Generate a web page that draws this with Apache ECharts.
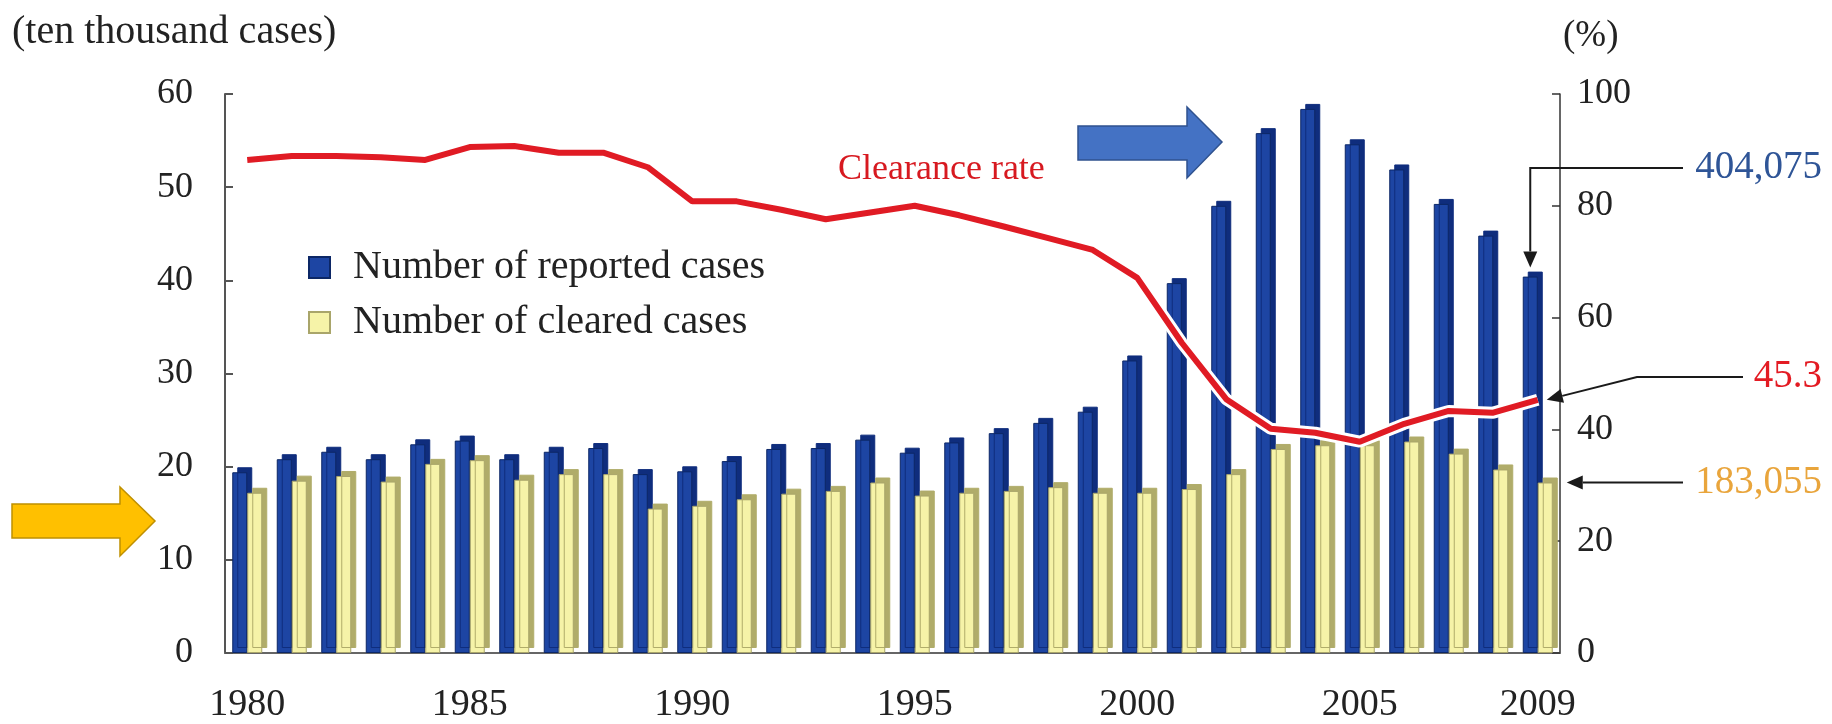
<!DOCTYPE html>
<html>
<head>
<meta charset="utf-8">
<script src="https://cdn.jsdelivr.net/npm/echarts@6.0.0/dist/echarts.min.js"></script>
<style>
  html, body { margin: 0; padding: 0; background: #fff; }
  #main { width: 1832px; height: 724px; }
</style>
</head>
<body>
<div id="main"></div>
<script>
// data
const years = ['1980', '1981', '1982', '1983', '1984', '1985', '1986', '1987', '1988', '1989',
  '1990', '1991', '1992', '1993', '1994', '1995', '1996', '1997', '1998', '1999',
  '2000', '2001', '2002', '2003', '2004', '2005', '2006', '2007', '2008', '2009'];
// ten thousand cases
const reported = [19.4, 20.8, 21.6, 20.8, 22.4, 22.8, 20.8, 21.6, 22.0, 19.2,
  19.5, 20.6, 21.9, 22.0, 22.9, 21.5, 22.6, 23.6, 24.7, 25.9,
  31.4, 39.7, 48.0, 55.8, 58.4, 54.6, 51.9, 48.2, 44.8, 40.4];
const cleared = [17.2, 18.5, 19.0, 18.4, 20.3, 20.7, 18.6, 19.2, 19.2, 15.5,
  15.8, 16.5, 17.1, 17.4, 18.3, 16.9, 17.2, 17.4, 17.8, 17.2,
  17.2, 17.6, 19.2, 21.9, 22.3, 22.3, 22.7, 21.4, 19.7, 18.3];
// %
const clearanceRate = [88.2, 88.9, 88.9, 88.7, 88.2, 90.5, 90.7, 89.5, 89.5, 86.9,
  80.8, 80.8, 79.3, 77.6, 78.8, 80.0, 78.3, 76.3, 74.2, 72.1,
  67.1, 55.5, 45.4, 40.1, 39.4, 37.8, 41.0, 43.3, 43.0, 45.3];
const yearLabels = ['1980', '1985', '1990', '1995', '2000', '2005', '2009'];
const callouts = { reported: '404,075', rate: '45.3', cleared: '183,055' };

const FONT = "'Liberation Serif', 'Times New Roman', serif";

const chart = echarts.init(document.getElementById('main'));

const option = {
  animation: false,
  backgroundColor: '#fff',
  textStyle: { fontFamily: FONT },
  title: [
    {
      text: '(ten thousand cases)', left: 12, top: 12, padding: 0,
      textStyle: { fontFamily: FONT, fontSize: 40, fontWeight: 'normal', color: '#222' }
    },
    {
      text: '(%)', left: 1563, top: 18, padding: 0,
      textStyle: { fontFamily: FONT, fontSize: 37, fontWeight: 'normal', color: '#222' }
    },
    {
      text: 'Clearance rate', left: 838, top: 152, padding: 0,
      textStyle: { fontFamily: FONT, fontSize: 36, fontWeight: 'normal', color: '#d71920' }
    }
  ],
  legend: {
    orient: 'vertical',
    left: 303,
    top: 241,
    itemWidth: 21,
    itemHeight: 21,
    itemGap: 12,
    icon: 'rect',
    data: ['Number of reported cases', 'Number of cleared cases'],
    textStyle: { fontFamily: FONT, fontSize: 40, color: '#222', lineHeight: 43, padding: [0, 0, 0, 18] },
    itemStyle: { shadowBlur: 0, shadowOffsetX: 0, shadowOffsetY: 0, shadowColor: 'rgba(0,0,0,0)' }
  },
  grid: { left: 225, right: 272, top: 94, bottom: 64 },
  xAxis: {
    type: 'category',
    data: years,
    boundaryGap: true,
    axisLine: { lineStyle: { color: '#666', width: 2 } },
    axisTick: { show: false },
    axisLabel: {
      interval: 0,
      margin: 33,
      fontFamily: FONT,
      fontSize: 38,
      color: '#222',
      formatter: v => (yearLabels.includes(v) ? v : '')
    }
  },
  yAxis: [
    {
      type: 'value', min: 0, max: 60, interval: 10, position: 'left',
      axisLine: { show: true, lineStyle: { color: '#555', width: 2 } },
      axisTick: { show: true, inside: true, length: 8, lineStyle: { color: '#555', width: 2 } },
      splitLine: { show: false },
      axisLabel: { margin: 32, fontFamily: FONT, fontSize: 36, color: '#222' }
    },
    {
      type: 'value', min: 0, max: 100, interval: 20, position: 'right',
      axisLine: { show: true, lineStyle: { color: '#333', width: 1.5 } },
      axisTick: { show: true, inside: true, length: 8, lineStyle: { color: '#333', width: 1.5 } },
      splitLine: { show: false },
      axisLabel: { margin: 17, fontFamily: FONT, fontSize: 36, color: '#222' }
    }
  ],
  series: [
    {
      name: 'Number of reported cases',
      type: 'bar',
      data: reported,
      barWidth: 15,
      barGap: '0%',
      itemStyle: {
        color: '#1d45a3',
        borderColor: '#0c2766',
        borderWidth: 1,
        shadowColor: '#0f2d7d',
        shadowOffsetX: 5,
        shadowOffsetY: -5,
        shadowBlur: 0
      }
    },
    {
      name: 'Number of cleared cases',
      type: 'bar',
      data: cleared,
      barWidth: 15,
      barGap: '0%',
      itemStyle: {
        color: '#f6f3a8',
        borderColor: '#a9a56a',
        borderWidth: 1,
        shadowColor: '#b0ac6a',
        shadowOffsetX: 5,
        shadowOffsetY: -5,
        shadowBlur: 0
      }
    },
    {
      name: 'halo',
      type: 'line',
      yAxisIndex: 1,
      data: clearanceRate,
      symbol: 'none',
      silent: true,
      lineStyle: { color: '#fff', width: 12 },
      z: 3
    },
    {
      name: 'Clearance rate',
      type: 'line',
      yAxisIndex: 1,
      data: clearanceRate,
      symbol: 'none',
      lineStyle: { color: '#e01b24', width: 6 },
      z: 4
    }
  ]
};

chart.setOption(option);

// callout arrows pointing at the last year's marks
function arrowShapes(points) {
  const n = points.length;
  const [x1, y1] = points[n - 2];
  const [x2, y2] = points[n - 1];
  const len = Math.hypot(x2 - x1, y2 - y1);
  const ux = (x2 - x1) / len, uy = (y2 - y1) / len;
  const hl = 16, hw = 7;
  const bx = x2 - ux * hl, by = y2 - uy * hl;
  const line = points.slice(0, n - 1).concat([[bx, by]]);
  return [
    { type: 'polyline', shape: { points: line }, style: { stroke: '#1a1a1a', lineWidth: 2, fill: null }, z: 10 },
    {
      type: 'polygon',
      shape: { points: [[x2, y2], [bx - uy * hw, by + ux * hw], [bx + uy * hw, by - ux * hw]] },
      style: { fill: '#1a1a1a' }, z: 10
    }
  ];
}

function calloutText(text, y, color) {
  return {
    type: 'text', z: 10,
    style: { text: text, x: 1822, y: y, fill: color, font: '39px ' + FONT, align: 'right', verticalAlign: 'middle' }
  };
}

const last = years.length - 1;
const pRep = chart.convertToPixel({ seriesIndex: 0 }, [last, reported[last]]);
const pClr = chart.convertToPixel({ seriesIndex: 1 }, [last, cleared[last]]);
const pRate = chart.convertToPixel({ seriesIndex: 3 }, [last, clearanceRate[last]]);

const repX = pRep[0] - 7.5;
const graphic = []
  .concat(arrowShapes([[1683, 168], [repX, 168], [repX, pRep[1] - 9]]))
  .concat(arrowShapes([[1743, 377], [1637, 377], [pRate[0] + 9, pRate[1]]]))
  .concat(arrowShapes([[1683, pClr[1]], [pClr[0] + 29, pClr[1]]]))
  .concat([
    calloutText(callouts.reported, 168, '#2f5597'),
    calloutText(callouts.rate, 377, '#e31b23'),
    calloutText(callouts.cleared, pClr[1], '#e9a53c'),
    {
      type: 'polygon', z: 10,
      shape: { points: [[1078, 126], [1187, 126], [1187, 107], [1222, 142], [1187, 178], [1187, 160], [1078, 160]] },
      style: { fill: '#4472c4', stroke: '#2f528f', lineWidth: 1.5 }
    },
    {
      type: 'polygon', z: 10,
      shape: { points: [[12, 504], [120, 504], [120, 487], [155, 521], [120, 556], [120, 538], [12, 538]] },
      style: { fill: '#ffc000', stroke: '#bf9000', lineWidth: 1.5 }
    }
  ]);

chart.setOption({ graphic: graphic });
</script>
</body>
</html>
